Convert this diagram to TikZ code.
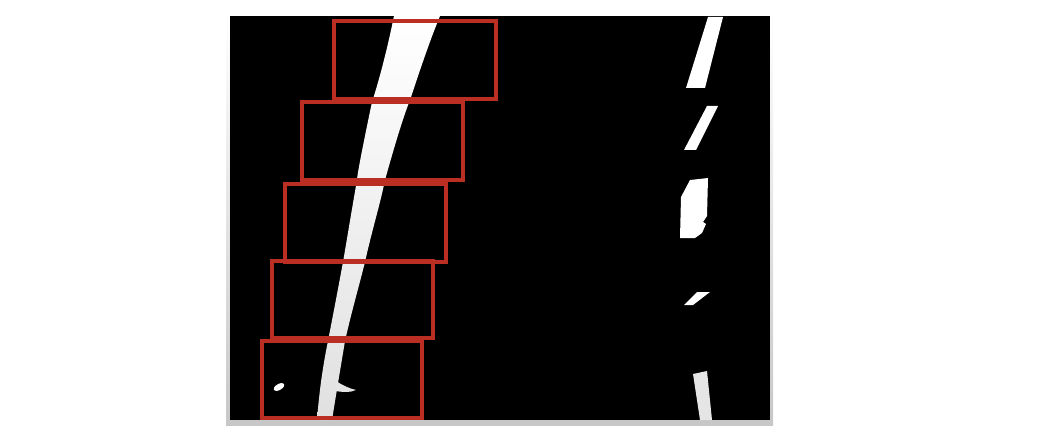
\documentclass[tikz,border=0pt]{standalone}
\begin{document}
\begin{tikzpicture}[x=1pt,y=-1pt,
  win/.style={draw=winred,line width=3.2pt},
  lane/.style={fill=white},
]
\definecolor{winred}{RGB}{186,46,36}
\useasboundingbox (0,0) rectangle (1048,438);
% frame
\shade[top color=white,bottom color=black!22] (226,16) rectangle (773,425);
\fill[black] (230,16) rectangle (770,420);
% left lane line
\shade[top color=white,bottom color=black!12]
  (394,16) .. controls (385,60) and (376,90) .. (372,102)
  .. controls (364,140) and (357,175) .. (357,180)
  .. controls (350,220) and (346,245) .. (343,262)
  .. controls (336,300) and (332,320) .. (328,341)
  .. controls (322,370) and (319,395) .. (317,420)
  -- (332,420)
  .. controls (336,395) and (341,365) .. (345,341)
  .. controls (352,310) and (358,290) .. (365,262)
  .. controls (372,230) and (380,205) .. (385,180)
  .. controls (392,155) and (402,120) .. (410,100)
  .. controls (420,70) and (430,40) .. (440,16) -- cycle;
% spur and blob
\fill[black!10] (336,381) .. controls (342,385) and (348,388) .. (356,390)
  .. controls (350,393) and (342,392) .. (335,391) -- cycle;
\fill[white,rotate around={30:(279,387)}] (279,387) ellipse (6 and 3);
% right lane dashes
\fill[lane] (708,17) -- (723,17) -- (705,88) -- (686,88) -- cycle;
\fill[lane] (707,106) -- (718,106) -- (696,150) -- (684,150) -- cycle;
\fill[lane] (690,180) -- (708,178) -- (707,216) -- (703,222) -- (706,224)
  -- (702,233) -- (695,238) -- (680,238) -- (681,197) -- cycle;
\fill[lane] (697,292) -- (710,292) -- (693,305) -- (684,305) -- cycle;
\fill[black!10] (693,374) -- (707,371) -- (712,420) -- (700,420) -- cycle;
% sliding windows
\draw[win] (334,21) rectangle (496,99);
\draw[win] (302,102) rectangle (463,180);
\draw[win] (285,184) rectangle (446,262);
\draw[win] (272,261) rectangle (433,338);
\draw[win] (262,341) rectangle (422,418);
\end{tikzpicture}
\end{document}
